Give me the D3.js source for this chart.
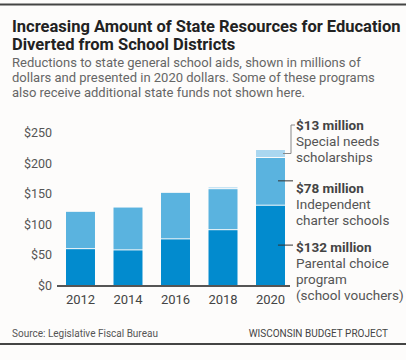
<!DOCTYPE html>
<html>
<head>
<meta charset="utf-8">
<script src="https://cdn.jsdelivr.net/npm/d3@7"></script>
<style>
  body { margin: 0; background: #fdfcfb; }
  svg { display: block; font-family: Roboto, sans-serif; }
</style>
</head>
<body>
<svg id="chart" width="406" height="360"></svg>
<script>
const years = ['2012', '2014', '2016', '2018', '2020'];
const vouchers = [61, 59, 77, 92, 132];
const charter = [61, 70, 76, 67, 78];
const specialNeeds = [0, 0, 0, 3, 13];
const yTicks = [0, 50, 100, 150, 200, 250];

const seriesKeys = ['vouchers', 'charter', 'specialNeeds'];
const colors = { vouchers: '#028bce', charter: '#5ab3df', specialNeeds: '#aad7f0' };

const rows = years.map((y, i) => ({
    year: y,
    vouchers: vouchers[i],
    charter: charter[i],
    specialNeeds: specialNeeds[i]
}));

const svg = d3.select('#chart');

// frame lines
svg.append('line').attr('x1', 0).attr('x2', 406).attr('y1', 4.5).attr('y2', 4.5)
    .attr('stroke', '#444').attr('stroke-width', 2);
svg.append('line').attr('x1', 0).attr('x2', 406).attr('y1', 344).attr('y2', 344)
    .attr('stroke', '#444').attr('stroke-width', 2);

// title + subtitle
const title = ['Increasing Amount of State Resources for Education', 'Diverted from School Districts'];
svg.selectAll('.title').data(title).enter().append('text')
    .attr('x', 12).attr('y', (d, i) => 32 + i * 18)
    .attr('font-size', 16.5).attr('font-weight', 700).attr('fill', '#222')
    .text(d => d);

const sub = ['Reductions to state general school aids, shown in millions of',
    'dollars and presented in 2020 dollars. Some of these programs',
    'also receive additional state funds not shown here.'];
svg.selectAll('.sub').data(sub).enter().append('text')
    .attr('x', 12).attr('y', (d, i) => 67.3 + i * 14.6)
    .attr('font-size', 13).attr('fill', '#666')
    .text(d => d);

const x = d3.scaleBand().domain(years).range([56.5, 294.5]).paddingInner(0.39).paddingOuter(0.2);
const y = d3.scaleLinear().domain([0, 250]).range([285.5, 132.5]);

const stack = d3.stack().keys(seriesKeys)(rows);

svg.append('g').selectAll('g').data(stack).enter().append('g')
    .attr('fill', d => colors[d.key])
    .selectAll('rect').data(d => d.filter(p => p[1] - p[0] > 0)).enter().append('rect')
    .attr('x', d => x(d.data.year))
    .attr('width', x.bandwidth())
    .attr('y', d => y(d[1]) + 1)
    .attr('height', d => Math.max(0, y(d[0]) - y(d[1]) - 1));

// y axis labels
const yAxis = svg.append('g').attr('transform', 'translate(52,0)')
    .call(d3.axisLeft(y).tickValues(yTicks).tickSize(0).tickPadding(0).tickFormat(d => '$' + d));
yAxis.select('.domain').remove();
yAxis.selectAll('text').attr('font-family', 'Roboto, sans-serif').attr('font-size', 12.5).attr('fill', '#555');

// x axis
const xAxis = svg.append('g').attr('transform', 'translate(0,286)')
    .call(d3.axisBottom(x).tickSize(0).tickPadding(9));
xAxis.select('.domain').remove();
xAxis.selectAll('text').attr('font-family', 'Roboto, sans-serif').attr('font-size', 13).attr('fill', '#444');
svg.append('line').attr('x1', 57).attr('x2', 290).attr('y1', 286).attr('y2', 286)
    .attr('stroke', '#555').attr('stroke-width', 2);

// annotations for 2020
const last = rows[rows.length - 1];
const bx = x(last.year) + x.bandwidth();
const labelX = 296;
const annos = [
    { key: 'specialNeeds', value: 13, lines: ['Special needs', 'scholarships'], ty: 125 },
    { key: 'charter', value: 78, lines: ['Independent', 'charter schools'], ty: 188 },
    { key: 'vouchers', value: 132, lines: ['Parental choice', 'program', '(school vouchers)'], ty: 247.5 }
];

annos.forEach(a => {
    const s = stack.find(d => d.key === a.key)[rows.length - 1];
    const mid = y((s[0] + s[1]) / 2);
    if (a.key === 'specialNeeds') {
        svg.append('path')
            .attr('d', `M${bx - 2},${mid + 0.5}H${labelX - 5}V${a.ty}H${labelX - 1}`)
            .attr('fill', 'none').attr('stroke', '#888').attr('stroke-width', 1);
    } else {
        svg.append('line').attr('x1', bx - 7).attr('x2', labelX - 3)
            .attr('y1', mid).attr('y2', mid)
            .attr('stroke', '#333').attr('stroke-width', 1);
    }
    const t = svg.append('text').attr('x', labelX).attr('y', a.ty + 4.5)
        .attr('font-size', 13.5).attr('fill', '#555');
    t.append('tspan').attr('x', labelX).attr('font-weight', 700).attr('fill', '#444')
        .text('$' + a.value + ' million');
    a.lines.forEach(l => {
        t.append('tspan').attr('x', labelX).attr('dy', 16).text(l);
    });
});

// footer
svg.append('text').attr('x', 12).attr('y', 337).attr('font-size', 10).attr('fill', '#555')
    .text('Source: Legislative Fiscal Bureau');
svg.append('text').attr('x', 388).attr('y', 337).attr('text-anchor', 'end')
    .attr('font-size', 10).attr('fill', '#444')
    .text('WISCONSIN BUDGET PROJECT');
</script>
</body>
</html>
